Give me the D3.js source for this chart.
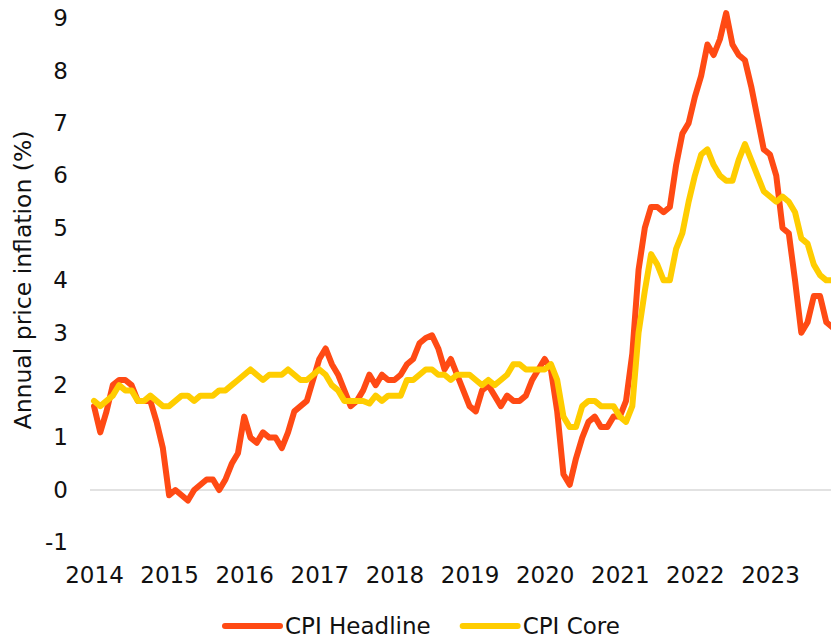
<!DOCTYPE html>
<html>
<head>
<meta charset="utf-8">
<script src="https://cdn.jsdelivr.net/npm/d3@7"></script>
<style>
  body { margin: 0; background: #fff; }
  text { font-family: "DejaVu Sans", sans-serif; fill: #111; }
</style>
</head>
<body>
<div id="chart"></div>
<script>
// monthly year-on-year inflation, Jan 2014 .. Nov 2023
var years = [2014, 2015, 2016, 2017, 2018, 2019, 2020, 2021, 2022, 2023];

var headline = [
  1.6, 1.1, 1.5, 2.0, 2.1, 2.1, 2.0, 1.7, 1.7, 1.7, 1.3, 0.8,
  -0.1, 0.0, -0.1, -0.2, 0.0, 0.1, 0.2, 0.2, 0.0, 0.2, 0.5, 0.7,
  1.4, 1.0, 0.9, 1.1, 1.0, 1.0, 0.8, 1.1, 1.5, 1.6, 1.7, 2.1,
  2.5, 2.7, 2.4, 2.2, 1.9, 1.6, 1.7, 1.9, 2.2, 2.0, 2.2, 2.1,
  2.1, 2.2, 2.4, 2.5, 2.8, 2.9, 2.95, 2.7, 2.3, 2.5, 2.2, 1.9,
  1.6, 1.5, 1.9, 2.0, 1.8, 1.6, 1.8, 1.7, 1.7, 1.8, 2.1, 2.3,
  2.5, 2.3, 1.5, 0.3, 0.1, 0.6, 1.0, 1.3, 1.4, 1.2, 1.2, 1.4,
  1.4, 1.7, 2.6, 4.2, 5.0, 5.4, 5.4, 5.3, 5.4, 6.2, 6.8, 7.0,
  7.5, 7.9, 8.5, 8.3, 8.6, 9.1, 8.5, 8.3, 8.2, 7.7, 7.1, 6.5,
  6.4, 6.0, 5.0, 4.9, 4.0, 3.0, 3.2, 3.7, 3.7, 3.2, 3.1
];

var core = [
  1.7, 1.6, 1.7, 1.8, 2.0, 1.9, 1.9, 1.7, 1.7, 1.8, 1.7, 1.6,
  1.6, 1.7, 1.8, 1.8, 1.7, 1.8, 1.8, 1.8, 1.9, 1.9, 2.0, 2.1,
  2.2, 2.3, 2.2, 2.1, 2.2, 2.2, 2.2, 2.3, 2.2, 2.1, 2.1, 2.2,
  2.3, 2.2, 2.0, 1.9, 1.7, 1.7, 1.7, 1.7, 1.65, 1.8, 1.7, 1.8,
  1.8, 1.8, 2.1, 2.1, 2.2, 2.3, 2.3, 2.2, 2.2, 2.1, 2.2, 2.2,
  2.2, 2.1, 2.0, 2.1, 2.0, 2.1, 2.2, 2.4, 2.4, 2.3, 2.3, 2.3,
  2.3, 2.4, 2.1, 1.4, 1.2, 1.2, 1.6, 1.7, 1.7, 1.6, 1.6, 1.6,
  1.4, 1.3, 1.6, 3.0, 3.8, 4.5, 4.3, 4.0, 4.0, 4.6, 4.9, 5.5,
  6.0, 6.4, 6.5, 6.2, 6.0, 5.9, 5.9, 6.3, 6.6, 6.3, 6.0, 5.7,
  5.6, 5.5, 5.6, 5.5, 5.3, 4.8, 4.7, 4.3, 4.1, 4.0, 4.0
];

var yTicks = [-1, 0, 1, 2, 3, 4, 5, 6, 7, 8, 9];

var series = [
  {name: "CPI Headline", values: headline, color: "#ff4a14"},
  {name: "CPI Core", values: core, color: "#ffcd00"}
];

var width = 831, height = 639;

var svg = d3.select("#chart").append("svg")
  .attr("width", width)
  .attr("height", height);

// month index -> x, one label per January
var x = d3.scaleLinear()
  .domain([0, 108])
  .range([94, 770]);

var y = d3.scaleLinear()
  .domain([-1, 9])
  .range([542.4, 18.3]);

// zero line
svg.append("line")
  .attr("x1", 90)
  .attr("x2", width)
  .attr("y1", y(0))
  .attr("y2", y(0))
  .attr("stroke", "#d9d9d9")
  .attr("stroke-width", 1.5);

var yAxis = svg.append("g")
  .attr("transform", "translate(90,0)")
  .call(d3.axisLeft(y).tickValues(yTicks).tickSize(0).tickPadding(22)
    .tickFormat(function(d) { return String(d); }));
yAxis.select(".domain").remove();
yAxis.selectAll("text").style("font-size", "23px").attr("fill", "#111");

var xAxis = svg.append("g")
  .attr("transform", "translate(0," + y(-1) + ")")
  .call(d3.axisBottom(x)
    .tickValues(years.map(function(d, i) { return i * 12; }))
    .tickFormat(function(d) { return years[d / 12]; })
    .tickSize(0)
    .tickPadding(24));
xAxis.select(".domain").remove();
xAxis.selectAll("text").style("font-size", "23px").attr("fill", "#111");

svg.append("text")
  .attr("transform", "translate(31,280) rotate(-90)")
  .attr("text-anchor", "middle")
  .style("font-size", "23.5px")
  .text("Annual price inflation (%)");

var line = d3.line()
  .x(function(d, i) { return x(i); })
  .y(function(d) { return y(d); });

svg.append("g").selectAll("path")
  .data(series)
  .enter().append("path")
  .attr("d", function(d) { return line(d.values); })
  .attr("fill", "none")
  .attr("stroke", function(d) { return d.color; })
  .attr("stroke-width", 6)
  .attr("stroke-linejoin", "round")
  .attr("stroke-linecap", "round");

// legend
var lx = 225;
series.forEach(function(s) {
  var g = svg.append("g").attr("transform", "translate(" + lx + ",626)");
  g.append("line")
    .attr("x1", 0).attr("x2", 55)
    .attr("stroke", s.color)
    .attr("stroke-width", 6)
    .attr("stroke-linecap", "round");
  var t = g.append("text")
    .attr("x", 60)
    .attr("y", 8)
    .style("font-size", "23px")
    .text(s.name);
  lx += 60 + t.node().getComputedTextLength() + 32;
});
</script>
</body>
</html>
